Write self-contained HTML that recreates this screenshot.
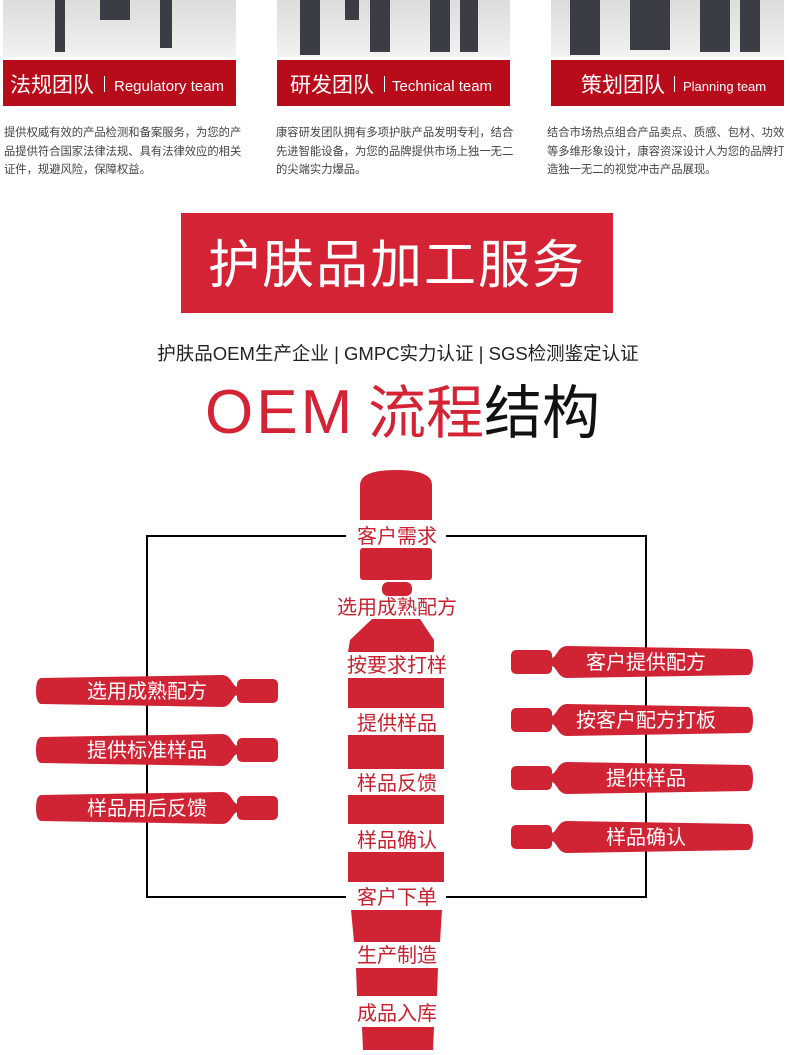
<!DOCTYPE html>
<html><head><meta charset="utf-8"><style>
body{margin:0;background:#fff;width:790px;height:1050px;overflow:hidden;font-family:"Liberation Sans","Noto Sans CJK SC",sans-serif}
</style></head><body>
<svg width="790" height="1050" xmlns="http://www.w3.org/2000/svg" font-family="Liberation Sans, Noto Sans CJK SC, sans-serif">
<defs>
<linearGradient id="ph" x1="0" y1="0" x2="0" y2="1"><stop offset="0" stop-color="#dcdcdc"/><stop offset="1" stop-color="#f2f2f2"/></linearGradient>
<g id="pill">
<path d="M5,-13 L186,-16 Q192,-16 196,-9 L199,-5 Q201,-4 203,-4 L203,4 Q201,4 199,5 L196,9 Q192,16 186,16 L5,13 Q0,12 0,0 Q0,-12 5,-13 Z" fill="#d02434"/>
<rect x="201" y="-12" width="41" height="24" rx="5" fill="#d02434"/>
</g>
</defs>
<rect x="3" y="0" width="233" height="57" fill="url(#ph)"/>
<rect x="277" y="0" width="233" height="57" fill="url(#ph)"/>
<rect x="551" y="0" width="233" height="57" fill="url(#ph)"/>
<g fill="#3a3d44">
<rect x="55" y="0" width="10" height="52"/><rect x="100" y="0" width="30" height="20"/><rect x="160" y="0" width="12" height="48"/>
<rect x="300" y="0" width="20" height="55"/><rect x="345" y="0" width="14" height="20"/><rect x="370" y="0" width="20" height="52"/><rect x="430" y="0" width="20" height="52"/><rect x="460" y="0" width="18" height="52"/>
<rect x="570" y="0" width="30" height="55"/><rect x="630" y="0" width="40" height="50"/><rect x="700" y="0" width="30" height="52"/><rect x="740" y="0" width="20" height="52"/>
</g>
<rect x="3" y="60" width="233" height="46" fill="#b80c1a"/>
<rect x="277" y="60" width="233" height="46" fill="#b80c1a"/>
<rect x="551" y="60" width="233" height="46" fill="#b80c1a"/>
<g fill="#fff">
<text x="10" y="92" font-size="21">法规团队</text><rect x="104" y="76" width="1" height="16"/><text x="114" y="91" font-size="15">Regulatory team</text>
<text x="290" y="92" font-size="21">研发团队</text><rect x="384" y="76" width="1" height="16"/><text x="392" y="91" font-size="15">Technical team</text>
<text x="581" y="92" font-size="21">策划团队</text><rect x="674" y="76" width="1" height="16"/><text x="683" y="91" font-size="13">Planning team</text>
</g>
<g fill="#444" font-size="11.3">
<text x="4" y="136">提供权威有效的产品检测和备案服务，为您的产</text>
<text x="4" y="155">品提供符合国家法律法规、具有法律效应的相关</text>
<text x="4" y="173">证件，规避风险，保障权益。</text>
<text x="276" y="136">康容研发团队拥有多项护肤产品发明专利，结合</text>
<text x="276" y="155">先进智能设备，为您的品牌提供市场上独一无二</text>
<text x="276" y="173">的尖端实力爆品。</text>
<text x="547" y="136">结合市场热点组合产品卖点、质感、包材、功效</text>
<text x="547" y="155">等多维形象设计，康容资深设计人为您的品牌打</text>
<text x="547" y="173">造独一无二的视觉冲击产品展现。</text>
</g>
<rect x="181" y="213" width="432" height="100" fill="#d42335"/>
<text x="397" y="283" font-size="52" fill="#fff" text-anchor="middle" letter-spacing="2">护肤品加工服务</text>
<text x="398" y="360" font-size="18.5" fill="#222" text-anchor="middle">护肤品OEM生产企业 | GMPC实力认证 | SGS检测鉴定认证</text>
<text x="205" y="433" font-size="62" fill="#d42335" letter-spacing="3">OEM</text>
<text x="368" y="433" font-size="58" fill="#d42335">流程<tspan fill="#111">结构</tspan></text>
<rect x="147" y="536" width="499" height="361" fill="none" stroke="#000" stroke-width="2"/>
<g fill="#d02434">
<path d="M360,520 L360,485 Q360,470 396,470 Q432,470 432,485 L432,520 Z"/>
<rect x="360" y="548" width="72" height="32" rx="3"/>
<rect x="382" y="582" width="30" height="14" rx="6"/>
<path d="M372,619 L420,619 L434,640 L434,652 L348,652 L350,640 Z"/>
<rect x="348" y="678" width="96" height="30"/>
<rect x="348" y="735" width="96" height="34"/>
<rect x="348" y="795" width="96" height="29"/>
<rect x="348" y="852" width="96" height="30"/>
<path d="M351,910 L442,910 L440,942 L354,942 Z"/>
<path d="M356,968 L438,968 L437,996 L357,996 Z"/>
<path d="M362,1027 L434,1027 L433,1050 L363,1050 Z"/>
</g>
<rect x="346" y="522" width="100" height="26" fill="#fff"/>
<rect x="346" y="884" width="100" height="24" fill="#fff"/>
<g fill="#c8202f" font-size="20" text-anchor="middle">
<text x="397" y="543">客户需求</text>
<text x="397" y="614">选用成熟配方</text>
<text x="397" y="672">按要求打样</text>
<text x="397" y="730">提供样品</text>
<text x="397" y="790">样品反馈</text>
<text x="397" y="847">样品确认</text>
<text x="397" y="904">客户下单</text>
<text x="397" y="962">生产制造</text>
<text x="397" y="1020">成品入库</text>
</g>
<use href="#pill" transform="translate(36,691)"/>
<use href="#pill" transform="translate(36,750)"/>
<use href="#pill" transform="translate(36,808)"/>
<use href="#pill" transform="translate(753,662) scale(-1,1)"/>
<use href="#pill" transform="translate(753,720) scale(-1,1)"/>
<use href="#pill" transform="translate(753,778) scale(-1,1)"/>
<use href="#pill" transform="translate(753,837) scale(-1,1)"/>
<g fill="#fff" font-size="20" text-anchor="middle">
<text x="147" y="698">选用成熟配方</text>
<text x="147" y="757">提供标准样品</text>
<text x="147" y="815">样品用后反馈</text>
<text x="646" y="669">客户提供配方</text>
<text x="646" y="727">按客户配方打板</text>
<text x="646" y="785">提供样品</text>
<text x="646" y="844">样品确认</text>
</g>
</svg>
</body></html>
